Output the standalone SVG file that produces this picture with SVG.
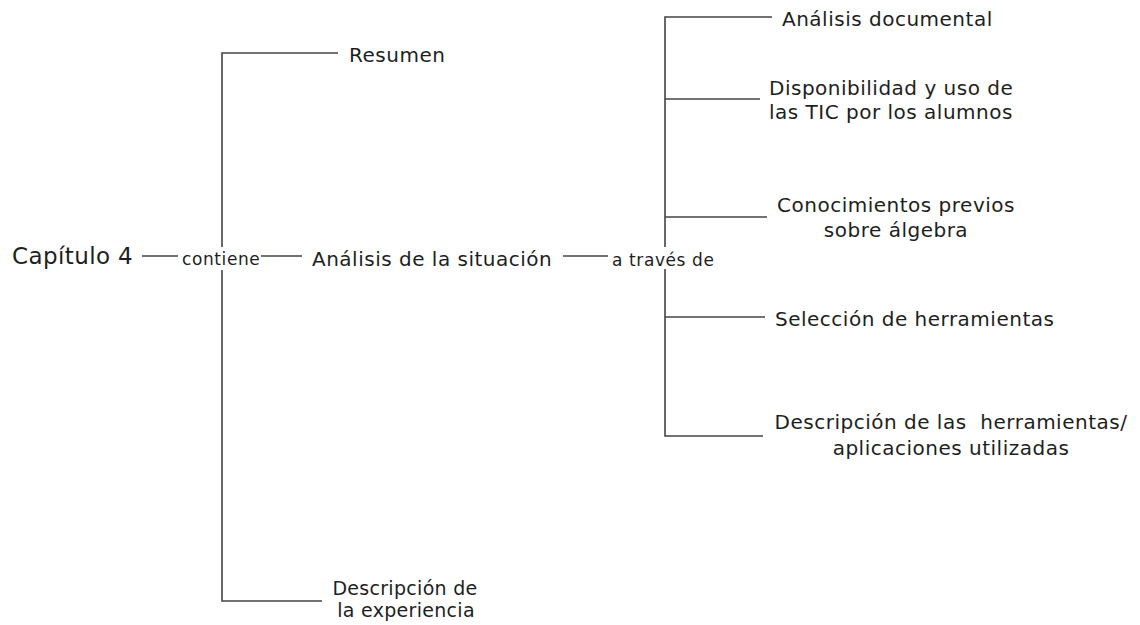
<svg xmlns="http://www.w3.org/2000/svg" width="1140" height="625" viewBox="0 0 1140 625">
<style>
text{font-family:"DejaVu Sans","Verdana",sans-serif;fill:#1e1e1e}
.l{font-size:20px;letter-spacing:0.5px}
.b{font-size:19px;letter-spacing:0.3px}
.s{font-size:17px;letter-spacing:0.6px}
.c{stroke:#444;stroke-width:1.6;fill:none}
</style>
<rect width="1140" height="625" fill="#fff"/>
<g id="connectors">
<path class="c" d="M338 53H222V247M222 270V601H322"/>
<path class="c" d="M142 256H178"/>
<path class="c" d="M261 256H302"/>
<path class="c" d="M563 256H608"/>
<path class="c" d="M772 17H665V247M665 269V436H763"/>
<path class="c" d="M665 99H760"/>
<path class="c" d="M665 217H767"/>
<path class="c" d="M665 317H765"/>
</g>
<g id="capitulo"><text x="12" y="264" style="font-size:23px;letter-spacing:0.4px">Capítulo 4</text></g>
<g id="contiene"><text x="182" y="265" class="s">contiene</text></g>
<g id="resumen"><text x="349" y="62" class="l">Resumen</text></g>
<g id="analisis"><text x="312" y="266" class="l">Análisis de la situación</text></g>
<g id="descexp"><text x="405" y="595" class="b" text-anchor="middle">Descripción de</text><text x="406" y="617" class="b" text-anchor="middle">la experiencia</text></g>
<g id="atraves"><text x="612" y="266" class="s">a través de</text></g>
<g id="doc"><text x="782" y="26" class="l">Análisis documental</text></g>
<g id="tic"><text x="769" y="95" class="l">Disponibilidad y uso de</text><text x="769" y="119" class="l">las TIC por los alumnos</text></g>
<g id="conoc"><text x="896" y="212" class="l" text-anchor="middle">Conocimientos previos</text><text x="896" y="237" class="l" text-anchor="middle">sobre álgebra</text></g>
<g id="sel"><text x="775" y="326" class="l">Selección de herramientas</text></g>
<g id="desch"><text x="951" y="429" class="l" text-anchor="middle" xml:space="preserve">Descripción de las  herramientas/</text><text x="951" y="455" class="l" text-anchor="middle">aplicaciones utilizadas</text></g>
</svg>
